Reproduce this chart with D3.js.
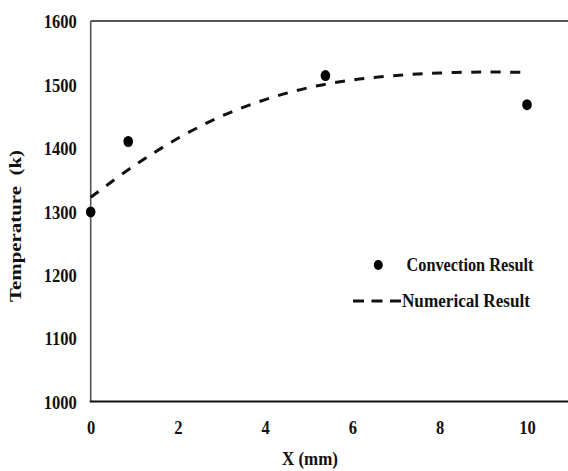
<!DOCTYPE html>
<html>
<head>
<meta charset="utf-8">
<script src="https://cdn.jsdelivr.net/npm/d3@7"></script>
<style>
  html, body { margin: 0; padding: 0; background: #fff; }
  svg { display: block; }
  text { font-family: "Liberation Serif", "Times New Roman", serif; font-weight: bold; fill: #111; }
</style>
</head>
<body>
<svg id="chart" width="568" height="471"></svg>
<script>
// ---- data ----
const convectionX = [0, 0.86, 5.38, 10.0];
const convectionT = [1299, 1410, 1514, 1468];

const numericalX = [0, 1, 2, 3, 4, 5, 6, 7, 8, 9, 9.9];
const numericalT = [1322, 1372, 1415, 1450, 1476, 1495, 1507, 1514, 1518, 1519.5, 1519];

const xTicks = [0, 2, 4, 6, 8, 10];
const yTicks = [1000, 1100, 1200, 1300, 1400, 1500, 1600];
const legendLabels = ["Convection Result", "Numerical Result"];
const xTitle = "X (mm)";
const yTitle = "Temperature  (k)";

// ---- layout ----
const svg = d3.select("#chart");
const W = 568;
const mLeft = 90.7, mRight = 527, mTop = 21, mBottom = 401.5;

const x = d3.scaleLinear().domain([0, 10]).range([mLeft, mRight]);
const y = d3.scaleLinear().domain([1000, 1600]).range([mBottom, mTop]);

// frame: top border and bottom axis run to the right edge, no right border
svg.append("line").attr("x1", mLeft).attr("x2", W).attr("y1", mTop).attr("y2", mTop)
  .attr("stroke", "#555").attr("stroke-width", 2);
svg.append("line").attr("x1", mLeft).attr("x2", mLeft).attr("y1", mTop).attr("y2", mBottom)
  .attr("stroke", "#555").attr("stroke-width", 1.6);

// y axis labels
const yAxis = svg.append("g").attr("transform", `translate(${mLeft},0)`)
  .call(d3.axisLeft(y).tickValues(yTicks).tickSize(0).tickFormat(d3.format("d")));
yAxis.select(".domain").remove();
yAxis.selectAll("text")
  .attr("x", 0).attr("dy", "0.36em")
  .attr("transform", "translate(-14,0) scale(0.87,1)")
  .style("font-size", "19px").style("font-family", "Liberation Serif").style("font-weight", "bold")
  .attr("fill", "#111");

// x axis labels
const xAxis = svg.append("g").attr("transform", `translate(0,${mBottom})`)
  .call(d3.axisBottom(x).tickValues(xTicks).tickSize(0).tickFormat(d3.format("d")));
xAxis.select(".domain").remove();
xAxis.selectAll("text")
  .attr("y", 0).attr("dy", "0.71em")
  .attr("transform", "translate(0,19) scale(0.87,1)")
  .style("font-size", "19px").style("font-family", "Liberation Serif").style("font-weight", "bold")
  .attr("fill", "#111");

// bottom axis line
svg.append("line").attr("x1", mLeft - 1).attr("x2", W).attr("y1", mBottom).attr("y2", mBottom)
  .attr("stroke", "#111").attr("stroke-width", 2);

// numerical (dashed) curve
const numData = numericalX.map((d, i) => [d, numericalT[i]]);
svg.append("path")
  .datum(numData)
  .attr("fill", "none")
  .attr("stroke", "#111")
  .attr("stroke-width", 3)
  .attr("stroke-dasharray", "10,9.5")
  .attr("d", d3.line().x(d => x(d[0])).y(d => y(d[1])).curve(d3.curveCatmullRom));

// convection points
svg.append("g").selectAll("ellipse")
  .data(convectionX.map((d, i) => [d, convectionT[i]]))
  .join("ellipse")
  .attr("cx", d => x(d[0])).attr("cy", d => y(d[1]))
  .attr("rx", 4.8).attr("ry", 5.5)
  .attr("fill", "#000");

// legend
const lg = svg.append("g");
lg.append("ellipse").attr("cx", 378.3).attr("cy", 265).attr("rx", 4.5).attr("ry", 5).attr("fill", "#000");
lg.append("text").attr("x", 406.5).attr("y", 270.5)
  .attr("textLength", 127).attr("lengthAdjust", "spacingAndGlyphs")
  .style("font-size", "18px").text(legendLabels[0]);
lg.append("line").attr("x1", 353).attr("x2", 402).attr("y1", 301).attr("y2", 301)
  .attr("stroke", "#111").attr("stroke-width", 3).attr("stroke-dasharray", "11,7.5");
lg.append("text").attr("x", 402).attr("y", 307)
  .attr("textLength", 128).attr("lengthAdjust", "spacingAndGlyphs")
  .style("font-size", "18px").text(legendLabels[1]);

// axis titles
svg.append("text").attr("x", 310).attr("y", 465)
  .attr("text-anchor", "middle")
  .attr("textLength", 56).attr("lengthAdjust", "spacingAndGlyphs")
  .style("font-size", "19px").text(xTitle);

svg.append("text")
  .attr("transform", "translate(20.5,226) rotate(-90)")
  .attr("text-anchor", "middle")
  .attr("textLength", 152).attr("lengthAdjust", "spacingAndGlyphs")
  .style("font-size", "17px").style("white-space", "pre").text(yTitle);
</script>
</body>
</html>
